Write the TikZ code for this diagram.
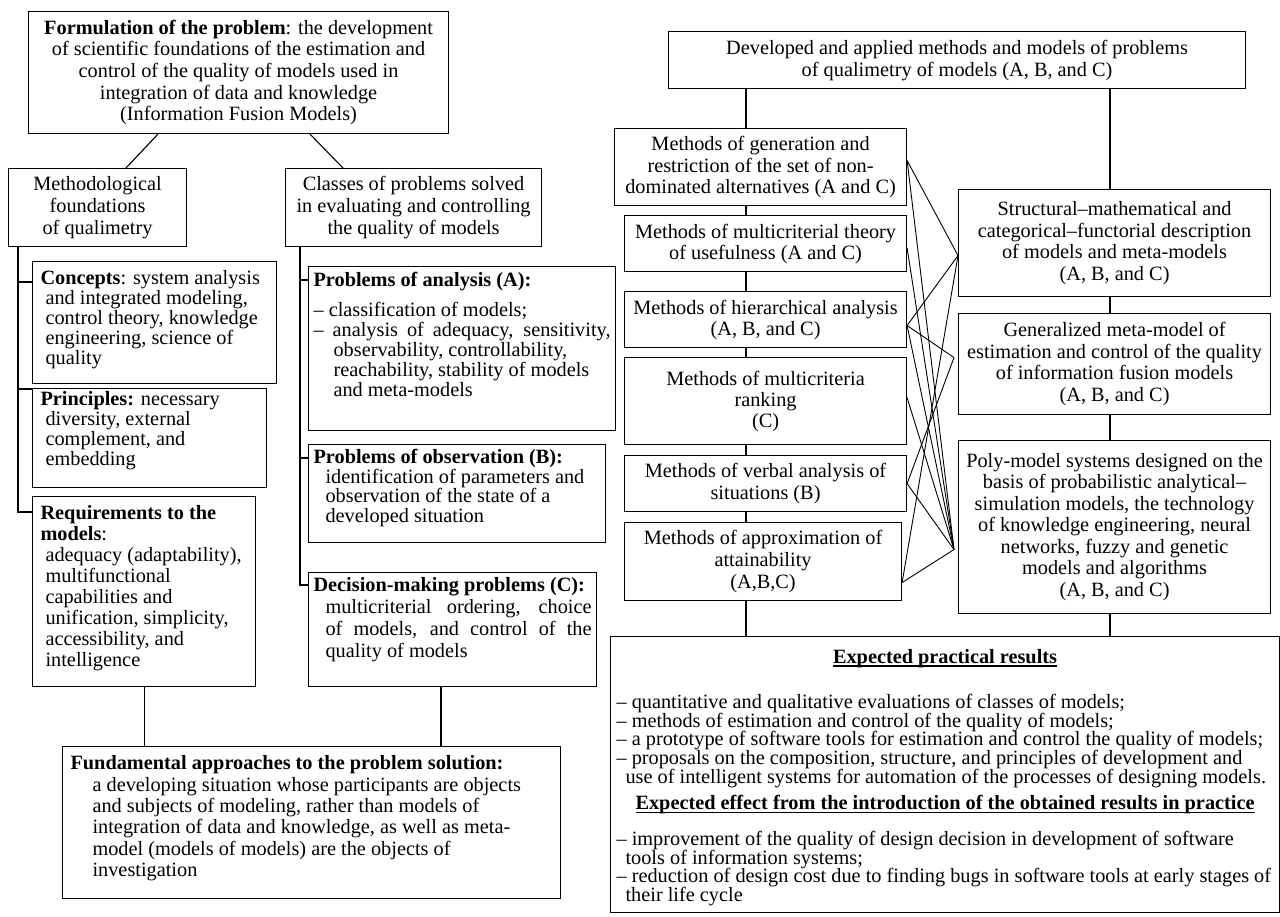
\documentclass[tikz,border=0pt]{standalone}
\usepackage{fontspec}
\setmainfont{Liberation Serif}
% name, x1, y1, x2, y2, xpad, inner-pos, options, text
\newcommand\mkbox[9]{%
  \pgfmathsetmacro\mkW{#4-#2}%
  \pgfmathsetmacro\mkH{#5-#3}%
  \pgfmathsetmacro\mkT{#4-#2-2*#6}%
  \node[box, inner xsep=#6pt, #8] (#1) at (#2,#3)
    {\begin{minipage}[c][\mkH pt][#7]{\mkT pt}#9\end{minipage}};}
\newcommand\myul[1]{\leavevmode\setbox0\hbox{#1}\rlap{\rule[-3pt]{\wd0}{1.3pt}}\box0}
\begin{document}
\begin{tikzpicture}[x=1pt,y=-1pt,
  box/.style={draw, line width=1.1pt, anchor=north west, inner ysep=0pt, fill=white},
  conn/.style={line width=1.1pt},
  xl/.style={line width=0.9pt},
  txt/.style={font=\fontsize{20.3}{#1}\selectfont}]
\fill[white] (0,0) rectangle (1280,916);
\useasboundingbox (0,0) rectangle (1280,916);

% ---------------- left part ----------------
\mkbox{F}{28}{11}{448}{133}{6}{c}{txt=21.7}{\centering
  \textbf{Formulation of the problem}: the development\\
  of scientific foundations of the estimation and\\
  control of the quality of models used in\\
  integration of data and knowledge\\
  (Information Fusion Models)}

\mkbox{M}{8}{168}{186}{246}{4}{c}{txt=21.7}{\centering
  Methodological\\foundations\\of qualimetry}

\mkbox{K}{285}{168}{541}{246}{4}{c}{txt=21.7}{\centering
  Classes of problems solved\\in evaluating and controlling\\the quality of models}

\mkbox{Co}{32}{261}{276}{383}{8}{t}{txt=20}{\vspace*{9pt}\raggedright
  \textbf{Concepts}: system analysis\\
  \hspace*{5pt}and integrated modeling,\\
  \hspace*{5pt}control theory, knowledge\\
  \hspace*{5pt}engineering, science of\\
  \hspace*{5pt}quality}

\mkbox{Pr}{32}{388}{266}{487}{8}{t}{txt=20}{\vspace*{3pt}\raggedright
  \textbf{Principles:} necessary\\
  \hspace*{5pt}diversity, external\\
  \hspace*{5pt}complement, and\\
  \hspace*{5pt}embedding}

\mkbox{Rq}{32}{496}{255}{686}{8}{t}{txt=21}{\vspace*{9pt}\raggedright
  \textbf{Requirements to the}\\
  \textbf{models}:\\
  \hspace*{5pt}adequacy (adaptability),\\
  \hspace*{5pt}multifunctional\\
  \hspace*{5pt}capabilities and\\
  \hspace*{5pt}unification, simplicity,\\
  \hspace*{5pt}accessibility, and\\
  \hspace*{5pt}intelligence}

\mkbox{An}{308}{266}{615}{430}{5}{t}{txt=20}{\vspace*{6pt}%
  \textbf{Problems of analysis (A):}\par\vspace{10pt}
  – classification of models;\par
  \hangindent=20pt\hangafter=1 – analysis of adequacy, sensitivity,\linebreak
  observability, controllability,\newline
  reachability, stability of models\newline
  and meta-models}

\mkbox{Ob}{308}{444}{605}{542}{5}{t}{txt=19.5}{\vspace*{5pt}\raggedright
  \textbf{Problems of observation (B):}\\
  \hspace*{12pt}identification of parameters and\\
  \hspace*{12pt}observation of the state of a\\
  \hspace*{12pt}developed situation}

\mkbox{De}{308}{572}{596}{686}{5}{t}{txt=22}{\vspace*{5pt}%
  \textbf{Decision-making problems (C):}\par
  \hangindent=12pt\hangafter=0 multicriterial ordering, choice\linebreak
  of models, and control of the\linebreak
  quality of models}

\mkbox{Fu}{62}{746}{560}{898}{8}{t}{txt=21.4}{\vspace*{9pt}\raggedright
  \textbf{Fundamental approaches to the problem solution:}\\
  \hspace*{22pt}a developing situation whose participants are objects\\
  \hspace*{22pt}and subjects of modeling, rather than models of\\
  \hspace*{22pt}integration of data and knowledge, as well as meta-\\
  \hspace*{22pt}model (models of models) are the objects of\\
  \hspace*{22pt}investigation}

% left connectors
\draw[conn] ([xshift=130pt]F.south west) -- ([xshift=118pt]M.north west);
\draw[conn] ([xshift=282pt]F.south west) -- ([xshift=58pt]K.north west);
\draw[conn] ([xshift=10pt]M.south west) |- ([yshift=-16pt]Rq.north west);
\draw[conn] ([yshift=-21pt]Co.north west) -- ++(-14,0);
\draw[conn] ([yshift=-1pt]Pr.north west) -- ++(-14,0);
\draw[conn] ([xshift=15pt]K.south west) |- ([yshift=-13pt]De.north west);
\draw[conn] ([yshift=-14pt]An.north west) -- ++(-8,0);
\draw[conn] ([yshift=-14pt]Ob.north west) -- ++(-8,0);
\draw[conn] (Rq.south) -- (Rq.south |- Fu.north);
\coordinate (dx) at ([xshift=133pt]De.south west);
\draw[conn] (dx) -- (dx |- Fu.north);

% ---------------- right part ----------------
\mkbox{D}{668}{31}{1245}{88}{6}{c}{txt=22}{\centering
  Developed and applied methods and models of problems\\
  of qualimetry of models (A, B, and C)}

\mkbox{G}{614}{128}{906}{205}{4}{c}{txt=21.7}{\centering
  Methods of generation and\\restriction of the set of non-\\dominated alternatives (A and C)}
\mkbox{U}{624}{215}{906}{271}{4}{c}{txt=21}{\centering
  Methods of multicriterial theory\\of usefulness (A and C)}
\mkbox{H}{624}{291}{906}{347}{4}{c}{txt=21}{\centering
  Methods of hierarchical analysis\\(A, B, and C)}
\mkbox{R}{624}{357}{906}{444}{4}{c}{txt=21}{\centering
  Methods of multicriteria\\ranking\\(C)}
\mkbox{V}{624}{455}{906}{511}{4}{c}{txt=22}{\centering
  Methods of verbal analysis of\\situations (B)}
\mkbox{A}{624}{522}{901}{600}{4}{c}{txt=21.7}{\centering
  Methods of approximation of\\attainability\\(A,B,C)}

\mkbox{S}{958}{189}{1270}{296}{4}{c}{txt=21.5}{\centering
  Structural–mathematical and\\categorical–functorial description\\of models and meta-models\\(A, B, and C)}
\mkbox{Ge}{958}{313}{1270}{414}{4}{c}{txt=21.5}{\centering
  Generalized meta-model of\\estimation and control of the quality\\of information fusion models\\(A, B, and C)}
\mkbox{Po}{958}{440}{1270}{613}{4}{c}{txt=21.5}{\centering
  Poly-model systems designed on the\\basis of probabilistic analytical–\\simulation models, the technology\\of knowledge engineering, neural\\networks, fuzzy and genetic\\models and algorithms\\(A, B, and C)}

\mkbox{P}{610}{636}{1279}{912}{6}{t}{txt=18.7}{\vspace*{13pt}%
  {\centering\myul{\textbf{Expected practical results}}\par}\vspace{26pt}
  \raggedright
  – quantitative and qualitative evaluations of classes of models;\\
  – methods of estimation and control of the quality of models;\\
  – a prototype of software tools for estimation and control the quality of models;\\
  – proposals on the composition, structure, and principles of development and\\
  \hspace*{9pt}use of intelligent systems for automation of the processes of designing models.\par
  \vspace{8pt}{\centering\myul{\textbf{Expected effect from the introduction of the obtained results in practice}}\par}
  \vspace{17pt}
  – improvement of the quality of design decision in development of software\\
  \hspace*{9pt}tools of information systems;\\
  – reduction of design cost due to finding bugs in software tools at early stages of\\
  \hspace*{9pt}their life cycle}

% vertical spines
\coordinate (lx) at ([xshift=132pt]G.north west);
\coordinate (rx) at ([xshift=152pt]S.north west);
\draw[conn] (lx |- D.south) -- (lx |- G.north);
\draw[conn] (lx |- G.south) -- (lx |- U.north);
\draw[conn] (lx |- U.south) -- (lx |- H.north);
\draw[conn] (lx |- H.south) -- (lx |- R.north);
\draw[conn] (lx |- R.south) -- (lx |- V.north);
\draw[conn] (lx |- V.south) -- (lx |- A.north);
\draw[conn] (lx |- A.south) -- (lx |- P.north);
\draw[conn] (rx |- D.south) -- (rx |- S.north);
\draw[conn] (rx |- S.south) -- (rx |- Ge.north);
\draw[conn] (rx |- Ge.south) -- (rx |- Po.north);
\draw[conn] (rx |- Po.south) -- (rx |- P.north);

% crossing links
\coordinate (ps) at ([yshift=-12.5pt]S.west);
\coordinate (pg) at ([xshift=-4pt,yshift=6.5pt]Ge.west);
\coordinate (pp) at ([xshift=-4pt,yshift=-22.5pt]Po.west);
\coordinate (g1) at ([yshift=6.5pt]G.east);
\coordinate (u1) at ([yshift=-4.5pt]U.east);
\coordinate (h1) at ([yshift=-6pt]H.east);
\coordinate (r1) at ([yshift=3.5pt]R.east);
\coordinate (v1) at (V.east);
\coordinate (a1) at ([yshift=-21pt]A.east);
\draw[xl] (g1) -- (ps);
\draw[xl] (g1) -- (pp);
\draw[xl] (u1) -- (pp);
\draw[xl] (h1) -- (ps);
\draw[xl] (h1) -- (pg);
\draw[xl] (h1) -- (pp);
\draw[xl] (r1) -- (pp);
\draw[xl] (v1) -- (pg);
\draw[xl] (v1) -- (pp);
\draw[xl] (a1) -- (ps);
\draw[xl] (a1) -- (pp);
\end{tikzpicture}
\end{document}
